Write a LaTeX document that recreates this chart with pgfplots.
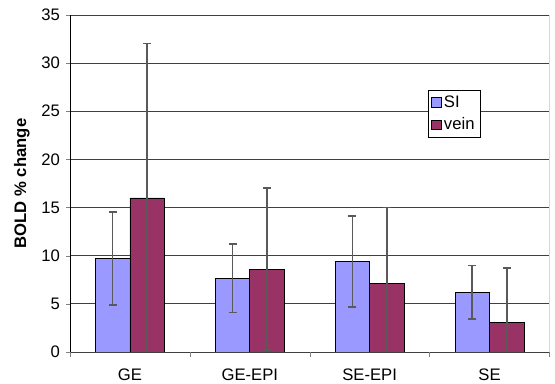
\documentclass[border=0pt]{standalone}
\usepackage{pgfplots}
\pgfplotsset{compat=1.18}
\usepackage{fontspec}
\setmainfont{Liberation Sans}
\definecolor{si}{HTML}{9999FF}
\definecolor{vein}{HTML}{993366}
\begin{document}
\begin{tikzpicture}[x=1pt,y=1pt]
\begin{axis}[
  scale only axis,
  width=359.6pt, height=252.8pt,
  ymin=0, ymax=35, ytick={0,5,...,35},
  xmin=-0.5, xmax=3.5,
  xtick={0,1,2,3},
  xticklabels={GE,GE-EPI,SE-EPI,SE},
  minor xtick={-0.5,0.5,1.5,2.5,3.5},
  major x tick style={draw=none},
  x tick label style={yshift=-6pt},
  y tick label style={xshift=-1pt},
  minor tick length=3.5pt,
  major tick length=3pt,
  tick align=outside,
  xtick pos=bottom, ytick pos=left,
  ymajorgrids,
  grid style={black!75, line width=0.6pt},
  axis line style={draw=none},
  ticklabel style={font=\fontsize{12.5}{14}\selectfont},
  /pgf/number format/assume math mode=true,
  ylabel={\bfseries BOLD \% change},
  ylabel style={font=\fontsize{12.5}{14}\selectfont, yshift=2pt},
  ybar, bar width=25.9pt,
  legend style={at={(rel axis cs:0.747,0.778)}, anchor=north west,
    font=\fontsize{12.5}{14}\selectfont, draw=black, line width=0.5pt,
    inner sep=2pt, row sep=2.5pt},
  legend cell align=left,
  legend image code/.code={\draw[#1, draw=black, line width=0.4pt] (0pt,-3.6pt) rectangle (7.2pt,3.6pt);},
  error bars/error bar style={black!65, line width=1.2pt},
  error bars/error mark options={rotate=90, mark size=3pt, line width=1.2pt, black!65},
  clip=true,
]
\addplot[fill=si, draw=black, line width=0.5pt, bar shift=-12.95pt,
  error bars/.cd, y dir=both, y explicit]
  coordinates {(0,9.7) +- (0,4.85) (1,7.65) +- (0,3.55) (2,9.4) +- (0,4.7) (3,6.2) +- (0,2.8)};
\addplot[fill=vein, draw=black, line width=0.5pt, bar shift=12.95pt,
  error bars/.cd, y dir=both, y explicit]
  coordinates {(0,16.0) +- (0,16.05) (1,8.6) +- (0,8.4) (2,7.15) +- (0,7.85) (3,3.05) +- (0,5.65)};
\legend{SI,vein}
\draw[black, line width=0.7pt] (rel axis cs:0,0) -- (rel axis cs:0,1);
\draw[black, line width=0.7pt] (rel axis cs:0,0) -- (rel axis cs:1,0);
\draw[black!45, line width=0.9pt] (rel axis cs:1,0) -- (rel axis cs:1,1);
\end{axis}
\pgfresetboundingbox
\path[use as bounding box] (-52.5pt,-24pt) rectangle (363.75pt,264pt);
\end{tikzpicture}
\end{document}
